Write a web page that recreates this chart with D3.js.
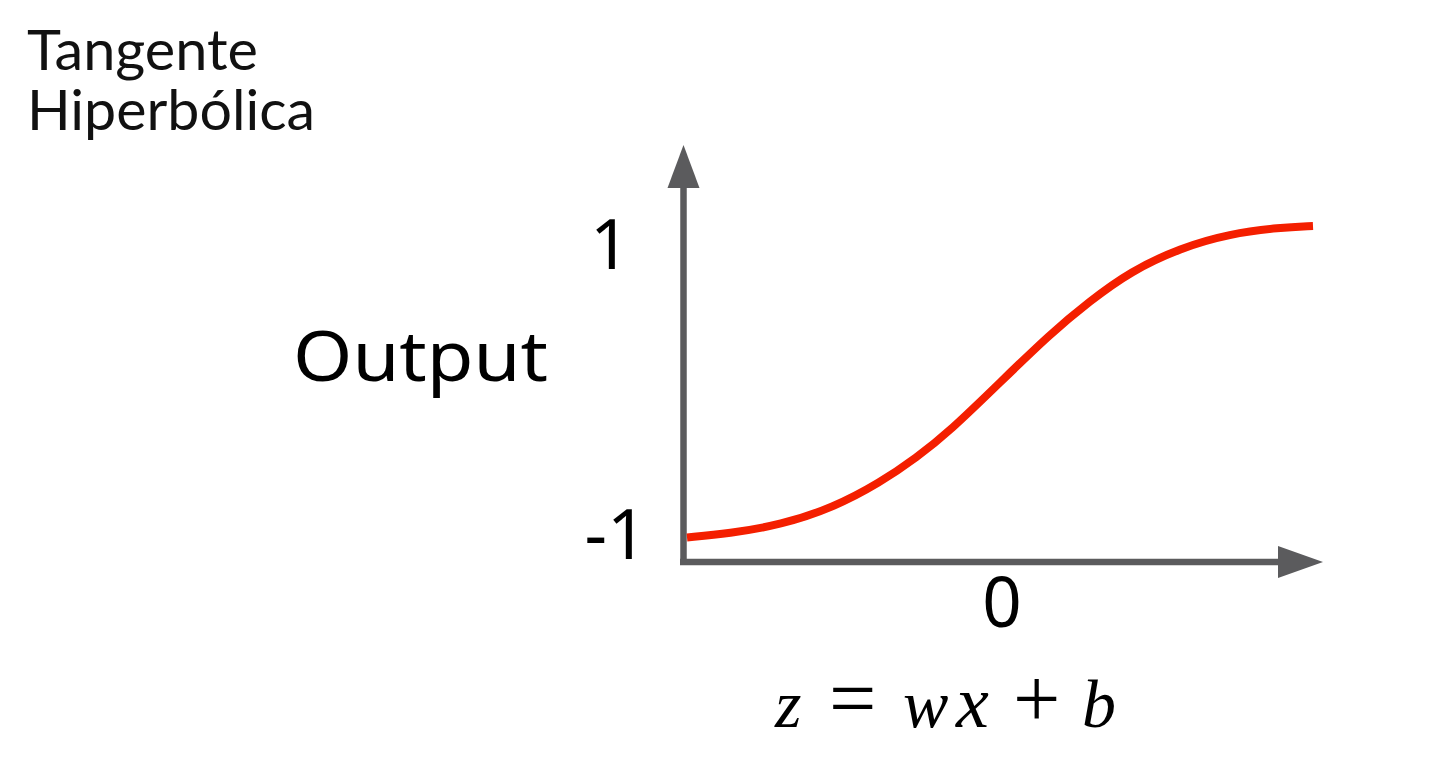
<!DOCTYPE html>
<html>
<head>
<meta charset="utf-8">
<script src="https://cdn.jsdelivr.net/npm/d3@7"></script>
<style>
  html, body { margin: 0; padding: 0; background: #ffffff; }
  svg { display: block; }
</style>
</head>
<body>
<svg id="chart" width="1443" height="769"></svg>
<script>
// ---- data ----
const titleLines = ["Tangente", "Hiperbólica"];
const zValues = [-3, -2.6, -2.1, -1.6, -1.15, -0.8, -0.48, 0, 0.48, 0.86, 1.25, 1.73, 2.2, 2.68, 3];
const outputValues = [-0.99, -0.965, -0.91, -0.8, -0.64, -0.48, -0.31, 0, 0.31, 0.52, 0.71, 0.86, 0.95, 0.99, 1.0];
const yTickLabels = ["1", "-1"];
const yTickValues = [1, -1];
const xTickLabels = ["0"];
const xTickValues = [0];
const yAxisTitle = "Output";
const xAxisTitle = ["z", "=", "w", "x", "+", "b"];

// ---- layout ----
const svg = d3.select("#chart");
const x = d3.scaleLinear().domain([-3, 3]).range([687, 1313]);
const y = d3.scaleLinear().domain([-1, 1]).range([539, 226]);

const axisColor = "#5b5b5d";
const originX = 683.5, originY = 562;

// title (two separate lines)
svg.selectAll(".title").data(titleLines).join("text")
  .attr("class", "title")
  .attr("x", 27).attr("y", (d, i) => 70 + i * 60)
  .attr("font-family", "Lato, 'Open Sans', sans-serif")
  .attr("font-weight", 400).attr("font-size", 56).attr("fill", "#111")
  .attr("textLength", (d, i) => i === 0 ? 231 : 288)
  .attr("lengthAdjust", "spacingAndGlyphs")
  .text(d => d);

// y axis with arrow
svg.append("line")
  .attr("x1", originX).attr("x2", originX)
  .attr("y1", 565).attr("y2", 186)
  .attr("stroke", axisColor).attr("stroke-width", 6.5);
svg.append("path")
  .attr("d", d3.line()([[originX, 145], [originX + 16, 188], [originX - 16, 188]]) + "Z")
  .attr("fill", axisColor);

// x axis with arrow
svg.append("line")
  .attr("x1", 680).attr("x2", 1280)
  .attr("y1", originY).attr("y2", originY)
  .attr("stroke", axisColor).attr("stroke-width", 6.5);
svg.append("path")
  .attr("d", d3.line()([[1323, originY], [1278, originY - 16], [1278, originY + 16]]) + "Z")
  .attr("fill", axisColor);

// tanh curve
const pts = zValues.map((z, i) => [x(z), y(outputValues[i])]);
svg.append("path")
  .datum(pts)
  .attr("d", d3.line().curve(d3.curveBasis))
  .attr("fill", "none")
  .attr("stroke", "#f41f00")
  .attr("stroke-width", 8);

// y tick labels
const yLabelBaseline = v => v === 1 ? y(v) + 43 : y(v) + 20;
svg.selectAll(".ytick").data(yTickValues).join("text")
  .attr("class", "ytick")
  .attr("y", d => yLabelBaseline(d))
  .attr("x", d => d === 1 ? 630 : 647)
  .attr("text-anchor", "end")
  .attr("font-family", "'Noto Sans', 'Open Sans', sans-serif")
  .attr("font-size", 70).attr("fill", "#000")
  .text((d, i) => yTickLabels[i]);

// x tick labels
svg.selectAll(".xtick").data(xTickValues).join("text")
  .attr("class", "xtick")
  .attr("x", d => x(d) + 2).attr("y", 627)
  .attr("text-anchor", "middle")
  .attr("font-family", "'Noto Sans', 'Open Sans', sans-serif")
  .attr("font-size", 69).attr("fill", "#000")
  .text((d, i) => xTickLabels[i]);

// y axis title
svg.append("text")
  .attr("x", 293).attr("y", 381)
  .attr("font-family", "'Noto Sans', 'Open Sans', sans-serif")
  .attr("font-size", 70).attr("fill", "#000")
  .attr("textLength", 255).attr("lengthAdjust", "spacingAndGlyphs")
  .text(yAxisTitle);

// x axis title (formula)
const formulaX = [775, 829, 903, 956, 1013, 1082];
const isOp = d => d === "=" || d === "+";
const f = svg.append("text")
  .attr("y", 727)
  .attr("font-family", "'Liberation Serif', 'DejaVu Serif', serif")
  .attr("font-size", 68).attr("fill", "#000");
f.selectAll("tspan").data(xAxisTitle).join("tspan")
  .attr("x", (d, i) => formulaX[i])
  .attr("font-style", d => isOp(d) ? "normal" : "italic")
  .attr("font-size", d => isOp(d) ? 84 : (d === "x" ? 74 : 68))
  .text(d => d);
</script>
</body>
</html>
